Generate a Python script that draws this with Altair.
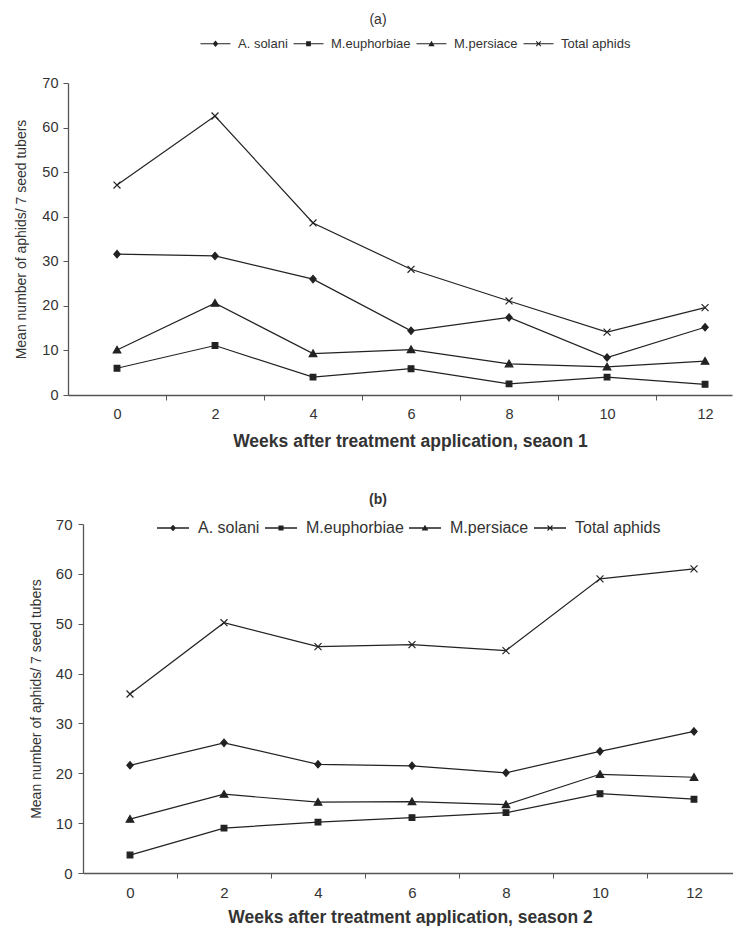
import altair as alt
import pandas as pd

weeks = [0, 2, 4, 6, 8, 10, 12]
week_boundaries = [1, 3, 5, 7, 9, 11]
series = ["A. solani", "M.euphorbiae", "M.persiace", "Total aphids"]

# Season 1 (panel a)
s1_solani = [31.6, 31.2, 26.0, 14.4, 17.4, 8.4, 15.2]
s1_euphorbiae = [6.0, 11.1, 4.0, 5.9, 2.5, 4.0, 2.4]
s1_persiace = [10.1, 20.6, 9.3, 10.2, 7.0, 6.3, 7.6]
s1_total = [47.1, 62.6, 38.6, 28.2, 21.1, 14.1, 19.6]

# Season 2 (panel b)
s2_solani = [21.6, 26.1, 21.8, 21.5, 20.1, 24.4, 28.4]
s2_euphorbiae = [3.6, 9.0, 10.2, 11.1, 12.1, 15.9, 14.8]
s2_persiace = [10.8, 15.8, 14.2, 14.3, 13.7, 19.8, 19.2]
s2_total = [35.9, 50.2, 45.4, 45.8, 44.6, 59.0, 61.0]

y_ticks = [0, 10, 20, 30, 40, 50, 60, 70]

FONT = "Liberation Sans"
INK = "#222222"
TXT = "#333333"

marker_paths = [
    "M0,-1.15L1,0L0,1.15L-1,0Z",
    "M-0.9,-0.9H0.9V0.9H-0.9Z",
    "M0,-1.15L1.2,0.95H-1.2Z",
    "M-1.1,-1.1L1.1,1.1M-1.1,1.1L1.1,-1.1",
]

LINE = "M-5,-0.2H5V0.2H-5Z"
XSHAPE = ("M-0.9,-0.65L-0.65,-0.9L0,-0.25L0.65,-0.9L0.9,-0.65L0.25,0"
          "L0.9,0.65L0.65,0.9L0,0.25L-0.65,0.9L-0.9,0.65L-0.25,0Z")
legend_paths = [
    LINE + "M0,-1.05L0.95,0L0,1.05L-0.95,0Z",
    LINE + "M-0.8,-0.8H0.8V0.8H-0.8Z",
    LINE + "M0,-1L1.05,0.8H-1.05Z",
    LINE + XSHAPE,
]


def make_df(vals):
    rows = []
    for name, v in zip(series, vals):
        for w, y in zip(weeks, v):
            rows.append({"week": w, "series": name, "value": y})
    return pd.DataFrame(rows)


def panel(df, title, title_bold, title_dx, xtitle, w, h, xmax, tick_fs, leg_fs,
          leg_size, leg_x, leg_y, leg_lo, leg_cp, ytitle_pad, ylabel_pad,
          xtitle_x, xtitle_pad):
    base = alt.Chart(df)
    tick_values = sorted(weeks + week_boundaries)
    x = alt.X(
        "week:Q",
        scale=alt.Scale(domain=[-1, xmax], nice=False, zero=False),
        axis=alt.Axis(
            title=xtitle, values=tick_values,
            labelExpr="datum.value % 2 === 0 ? datum.label : ''",
            tickOpacity={"condition": {"test": "datum.value % 2 === 0", "value": 0}, "value": 1},
            labelAngle=0, tickSize=5, grid=False,
            labelFontSize=tick_fs, labelPadding=7, titleFontSize=17.5,
            titleFontWeight="bold", titlePadding=xtitle_pad, titleX=xtitle_x,
        ),
    )
    y = alt.Y(
        "value:Q",
        scale=alt.Scale(domain=[0, 70], nice=False),
        axis=alt.Axis(
            values=y_ticks, title="Mean number of aphids/ 7 seed tubers",
            tickSize=5, labelFontSize=tick_fs, labelPadding=ylabel_pad,
            titleFontSize=14, titleFontWeight="normal", titlePadding=ytitle_pad,
            grid=False,
        ),
    )
    lines = base.mark_line(color=INK, strokeWidth=1.2).encode(
        x=x, y=y, detail="series:N"
    )
    pts = base.mark_point(
        filled=True, fill=INK, stroke=INK, strokeWidth=1.2, size=40, opacity=1
    ).encode(
        x=x, y=y,
        shape=alt.Shape("series:N",
                        scale=alt.Scale(domain=series, range=marker_paths),
                        legend=None),
    )
    leg = base.mark_point(
        filled=True, opacity=0, fill=INK, stroke=INK, strokeWidth=1.2
    ).encode(
        x=x, y=y,
        shape=alt.Shape(
            "series:N",
            scale=alt.Scale(domain=series, range=legend_paths),
            legend=alt.Legend(
                orient="none", legendX=leg_x, legendY=leg_y,
                direction="horizontal", title=None, symbolSize=leg_size,
                symbolOpacity=1, symbolFillColor=INK, symbolStrokeColor=INK,
                symbolStrokeWidth=1.2, labelFontSize=leg_fs, labelFont=FONT,
                labelColor=TXT, labelOffset=leg_lo, columnPadding=leg_cp,
                padding=0,
            ),
        ),
    )
    return (
        alt.layer(lines, pts, leg)
        .resolve_scale(shape="independent")
        .resolve_legend(shape="independent")
        .properties(
            width=w, height=h,
            title=alt.TitleParams(
                title, anchor="middle", dx=title_dx, fontSize=14,
                fontWeight="bold" if title_bold else "normal", color=TXT,
                offset=10,
            ),
        )
    )


top = panel(make_df([s1_solani, s1_euphorbiae, s1_persiace, s1_total]),
            "(a)", False, -22, "Weeks after treatment application, seaon 1",
            664, 312, 12.55, 14.5, 13, 36, 141, -46, 16, 3, 13, 5, 342, 12)
bottom = panel(make_df([s2_solani, s2_euphorbiae, s2_persiace, s2_total]),
               "(b)", True, -30, "Weeks after treatment application, season 2",
               650, 349, 12.83, 15, 16, 41, 82, -4, 17, 2, 12, 6, 327, 8)

spacer = alt.Chart(pd.DataFrame({"v": [0]})).mark_point(opacity=0).encode(
    x=alt.value(0), y=alt.value(0)
).properties(width=15, height=10)

chart = (
    alt.vconcat(top, alt.hconcat(spacer, bottom, spacing=0, bounds="flush"),
                spacing=43)
    .properties(padding={"left": 6, "top": 5, "right": 0, "bottom": 0})
    .configure(font=FONT)
    .configure_view(stroke=None)
    .configure_axis(domainColor="#555555", tickColor="#555555",
                    labelColor=TXT, titleColor=TXT, labelFont=FONT,
                    titleFont=FONT, domainWidth=1.3)
)

chart.save("out.html", embed_options={"renderer": "svg", "actions": False})
